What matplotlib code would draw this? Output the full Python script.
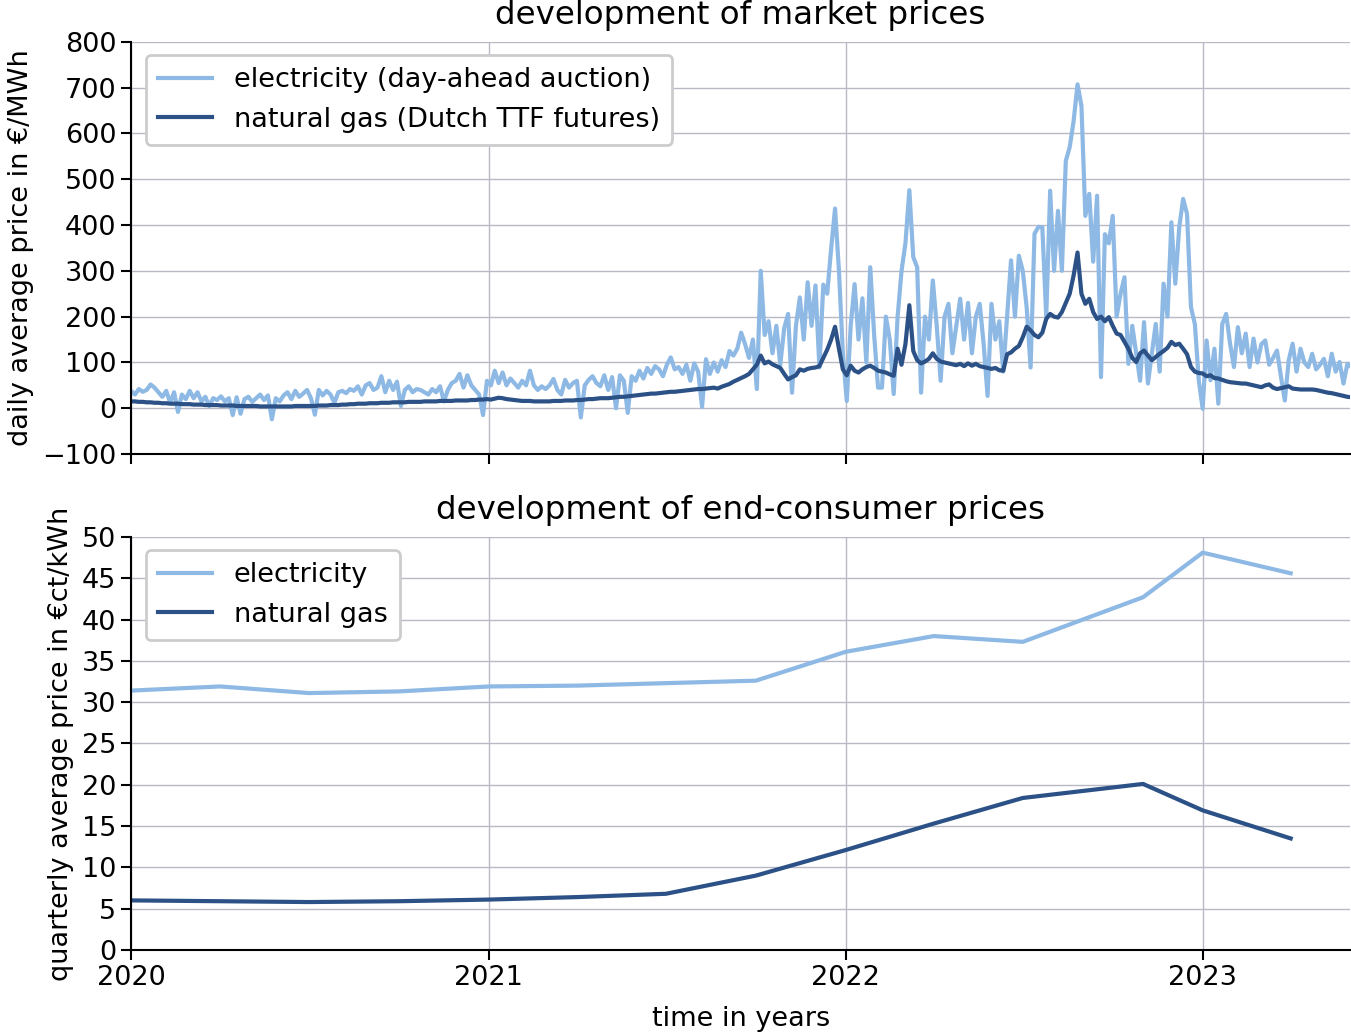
import matplotlib
matplotlib.use('Agg')
import matplotlib.pyplot as plt
import pandas as pd

elec_day_ahead = [
    38, 30, 42, 36, 40, 52, 45, 35, 25, 38,
    12, 35, -8, 30, 20, 38, 22, 35, 15, 25,
    5, 22, 18, 26, 15, 22, -15, 24, -12, 20,
    25, 14, 22, 30, 18, 28, -24, 22, 15, 28,
    35, 20, 38, 25, 32, 40, 22, -14, 40, 28,
    38, 30, 12, 35, 38, 33, 42, 38, 48, 30,
    50, 55, 40, 45, 70, 35, 60, 40, 58, 5,
    40, 48, 35, 42, 40, 35, 30, 42, 35, 48,
    15, 40, 55, 60, 75, 45, 72, 50, 40, 30,
    -15, 60, 50, 82, 55, 78, 50, 65, 55, 45,
    60, 50, 82, 50, 40, 48, 42, 50, 64, 40,
    30, 62, 45, 55, 60, -20, 50, 62, 70, 55,
    48, 72, 40, 68, 0, 72, 60, -10, 70, 60,
    82, 65, 88, 75, 92, 85, 70, 95, 111, 85,
    90, 75, 95, 60, 98, 80, 3, 107, 75, 100,
    80, 105, 90, 125, 115, 130, 165, 140, 110, 150,
    42, 300, 160, 190, 120, 180, 95, 175, 206, 34,
    180, 242, 150, 275, 180, 268, 89, 270, 250, 348,
    436, 300, 120, 16, 180, 271, 150, 240, 100, 308,
    160, 45, 45, 200, 150, 31, 200, 300, 360, 476,
    330, 308, 34, 200, 150, 279, 180, 60, 200, 228,
    120, 180, 239, 150, 230, 120, 200, 228, 140, 27,
    228, 150, 190, 80, 200, 323, 200, 333, 300, 220,
    89, 381, 396, 395, 200, 475, 300, 431, 300, 540,
    570, 627, 707, 660, 420, 468, 320, 464, 68, 380,
    360, 420, 200, 250, 286, 97, 180, 120, 60, 188,
    54, 120, 184, 80, 272, 200, 406, 272, 395, 457,
    424, 221, 184, 61, -1, 148, 61, 130, 10, 184,
    206, 141, 90, 177, 120, 163, 90, 152, 100, 140,
    148, 95, 110, 126, 70, 17, 105, 141, 80, 130,
    100, 90, 119, 85, 95, 108, 70, 119, 80, 101,
    54, 97, 90,
]

gas_ttf = [
    15, 15, 14, 14, 13, 13, 12, 12, 11, 11,
    10, 10, 10, 9, 9, 9, 8, 8, 8, 7,
    7, 7, 7, 6, 6, 6, 6, 5, 5, 5,
    5, 5, 5, 4, 4, 4, 4, 4, 4, 4,
    4, 4, 5, 5, 5, 5, 5, 5, 6, 6,
    6, 7, 7, 7, 8, 8, 9, 9, 10, 10,
    10, 11, 11, 11, 12, 12, 12, 13, 13, 13,
    13, 14, 14, 14, 14, 15, 15, 15, 15, 16,
    16, 16, 16, 17, 17, 17, 17, 18, 18, 19,
    19, 20, 19, 21, 23, 22, 20, 19, 18, 17,
    16, 16, 16, 15, 15, 15, 15, 15, 16, 16,
    16, 17, 17, 17, 18, 18, 19, 20, 20, 21,
    22, 22, 22, 23, 24, 25, 25, 26, 27, 28,
    29, 30, 31, 32, 32, 33, 34, 35, 36, 36,
    37, 38, 39, 40, 41, 42, 42, 43, 44, 45,
    43, 47, 50, 53, 58, 62, 66, 70, 75, 85,
    95, 115, 98, 102, 96, 92, 88, 75, 63, 68,
    72, 85, 82, 86, 88, 89, 92, 110, 128, 150,
    178, 130, 85, 72, 93, 82, 78, 85, 90, 93,
    88, 82, 80, 78, 74, 71, 130, 95, 140, 225,
    125, 105, 98, 102, 108, 120, 108, 102, 100, 98,
    96, 94, 97, 92, 98, 93, 97, 92, 90, 88,
    86, 88, 83, 82, 118, 122, 130, 136, 155, 178,
    170, 160, 155, 165, 195, 206, 200, 198, 210, 230,
    250, 290, 340, 250, 228, 239, 210, 195, 200, 190,
    199, 180, 163, 160, 145, 130, 110, 101, 120, 126,
    115, 105, 112, 119, 125, 132, 145, 138, 141, 130,
    118, 90, 80, 77, 76, 70, 72, 66, 65, 62,
    59, 57, 56, 55, 54, 54, 52, 50, 48, 46,
    50, 52, 45, 42, 44, 46, 48, 43, 42, 41,
    41, 41, 41, 40, 38, 36, 34, 33, 31, 29,
    27, 25, 24,
]

# end-consumer prices (ct/kWh)
consumer_dates = ['2020-01-01', '2020-04-01', '2020-07-01', '2020-10-01',
                  '2021-01-01', '2021-04-01', '2021-07-01', '2021-10-01',
                  '2022-01-01', '2022-04-01', '2022-07-01', '2022-11-01',
                  '2023-01-01', '2023-04-01']
elec_consumer = [31.4, 31.9, 31.1, 31.3, 31.9, 32.0, 32.3, 32.6,
                 36.1, 38.0, 37.3, 42.7, 48.1, 45.6]
gas_consumer = [6.0, 5.9, 5.8, 5.9, 6.1, 6.4, 6.8, 9.0,
                12.1, 15.3, 18.4, 20.1, 16.9, 13.5]

year_ticks = ['2020-01-01', '2021-01-01', '2022-01-01', '2023-01-01']
year_labels = ['2020', '2021', '2022', '2023']

c_elec = '#8db9e4'
c_gas = '#2b5186'
c_grid = '#b9b9c6'

plt.rcParams['font.family'] = 'DejaVu Sans'
plt.rcParams['font.size'] = 19.5

elec_dates = pd.date_range('2020-01-01', periods=len(elec_day_ahead), freq='4D')
gas_dates = pd.date_range('2020-01-01', periods=len(gas_ttf), freq='4D')
cons_dates = pd.to_datetime(consumer_dates)
xticks = pd.to_datetime(year_ticks)
xlim = (pd.Timestamp('2020-01-01'), pd.Timestamp('2023-06-01'))

fig = plt.figure(figsize=(13.51, 10.32), dpi=100)
ax1 = fig.add_axes([0.097, 0.560, 0.9025, 0.3995])
ax2 = fig.add_axes([0.097, 0.0795, 0.9025, 0.4002])


def style(ax):
    ax.grid(True, color=c_grid, linewidth=1.0)
    ax.set_axisbelow(True)
    for s in ['top', 'right']:
        ax.spines[s].set_visible(False)
    for s in ['left', 'bottom']:
        ax.spines[s].set_linewidth(1.5)
    ax.tick_params(width=1.5, length=7)
    ax.set_xlim(*xlim)
    ax.set_xticks(xticks)


ax1.plot(elec_dates, elec_day_ahead, color=c_elec, linewidth=3.0,
         label='electricity (day-ahead auction)')
ax1.plot(gas_dates, gas_ttf, color=c_gas, linewidth=3.0,
         label='natural gas (Dutch TTF futures)')
style(ax1)
ax1.set_ylim(-100, 800)
ax1.set_yticks(range(-100, 801, 100))
ax1.set_xticklabels([])
ax1.set_ylabel('daily average price in €/MWh', labelpad=6)
ax1.set_title('development of market prices', pad=13)
leg = ax1.legend(loc='upper left', bbox_to_anchor=(0.012, 0.968), borderaxespad=0,
                 framealpha=1, edgecolor='#cccccc', borderpad=0.45)
leg.get_frame().set_linewidth(2)

ax2.plot(cons_dates, elec_consumer, color=c_elec, linewidth=3.0, label='electricity')
ax2.plot(cons_dates, gas_consumer, color=c_gas, linewidth=3.0, label='natural gas')
style(ax2)
ax2.set_ylim(0, 50)
ax2.set_yticks(range(0, 51, 5))
ax2.set_xticklabels(year_labels)
ax2.set_xlabel('time in years', labelpad=11)
ax2.set_ylabel('quarterly average price in €ct/kWh', labelpad=6)
ax2.set_title('development of end-consumer prices', pad=13)
leg2 = ax2.legend(loc='upper left', bbox_to_anchor=(0.012, 0.968), borderaxespad=0,
                  framealpha=1, edgecolor='#cccccc', borderpad=0.45)
leg2.get_frame().set_linewidth(2)

fig.savefig('out.png', dpi=100)
